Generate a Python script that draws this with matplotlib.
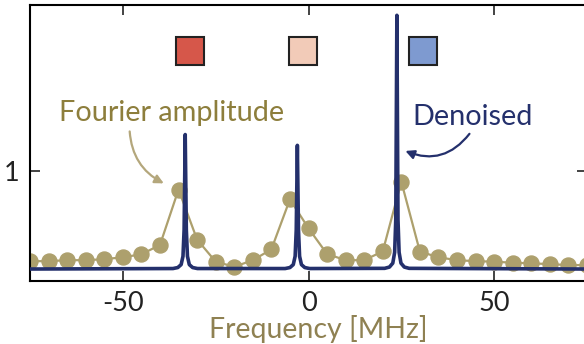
import matplotlib
matplotlib.use("Agg")
import matplotlib.pyplot as plt

plt.rcParams['font.family'] = ['Lato', 'DejaVu Sans']
plt.rcParams['axes.unicode_minus'] = False

# Fourier amplitude samples (5 MHz grid)
freq = [-75, -70, -65, -60, -55, -50, -45, -40, -35, -30, -25, -20, -15, -10, -5,
        0, 5, 10, 15, 20, 25, 30, 35, 40, 45, 50, 55, 60, 65, 70, 75]
amp = [0.08, 0.08, 0.09, 0.09, 0.10, 0.12, 0.15, 0.245, 0.81, 0.30, 0.075, 0.023,
       0.09, 0.20, 0.71, 0.415, 0.153, 0.09, 0.09, 0.18, 0.89, 0.177, 0.12, 0.09,
       0.08, 0.075, 0.064, 0.058, 0.05, 0.04, 0.04]

# Denoised spectrum (three narrow lines)
den_x = [-75, -36.5, -35.2, -34.3, -33.8, -33.5, -33.2, -32.9, -32.6, -32.1, -31.2, -29.9,
         -6.3, -5.0, -4.1, -3.6, -3.3, -3.0, -2.7, -2.4, -1.9, -1.0, 0.3,
         20.5, 21.8, 22.7, 23.2, 23.5, 23.8, 24.1, 24.4, 24.9, 25.8, 27.1, 75]
den_y = [0.0, 0.005, 0.015, 0.045, 0.13, 0.4, 1.37, 0.4, 0.13, 0.045, 0.015, 0.005,
         0.005, 0.015, 0.045, 0.13, 0.4, 1.26, 0.4, 0.13, 0.045, 0.015, 0.005,
         0.007, 0.02, 0.06, 0.17, 0.5, 2.585, 0.5, 0.17, 0.06, 0.02, 0.007, 0.0]

# colour swatches above the lines
sq_x = [-31.9, -1.6, 30.8]
sq_y = [2.22, 2.22, 2.22]
sq_colors = ['#d6574a', '#f2cbb8', '#7e9ad0']

gold = '#ada06d'
gold_text = '#8d7e3c'
navy = '#24306c'

fig = plt.figure(figsize=(5.84, 3.44), dpi=100)
ax = fig.add_axes([30 / 584, 63 / 344, 557 / 584, 276 / 344])

ax.plot(freq, amp, '-o', color=gold, lw=1.6, ms=10.8, zorder=2)
ax.plot(den_x, den_y, '-', color=navy, lw=2.6, solid_joinstyle='round', zorder=3)

for x, y, c in zip(sq_x, sq_y, sq_colors):
    ax.plot(x, y, 's', ms=20.5, mfc=c, mec='#222222', mew=1.5)

ax.text(-67.1, 1.51, 'Fourier amplitude', color=gold_text, fontsize=20.8, va='baseline')
ax.text(28.0, 1.47, 'Denoised', color=navy, fontsize=20.8, va='baseline')

ax.annotate('', xy=(-38.3, 0.86), xytext=(-48.2, 1.43),
            arrowprops=dict(arrowstyle='-|>', color='#b4a77c', lw=1.6,
                            mutation_scale=13, connectionstyle='arc3,rad=0.3'))
ax.annotate('', xy=(25.4, 1.214), xytext=(43.8, 1.40),
            arrowprops=dict(arrowstyle='-|>', color=navy, lw=1.6,
                            mutation_scale=13, connectionstyle='arc3,rad=-0.4'))

ax.set_xlim(-75, 75)
ax.set_ylim(-0.122, 2.69)
ax.set_xticks([-50, 0, 50])
ax.set_yticks([1])
ax.tick_params(direction='in', top=True, right=True, length=7, width=1.2,
               labelsize=19.5, pad=7.5, colors='#222222')
for s in ax.spines.values():
    s.set_linewidth(1.5)

fig.text(318 / 584, 0.018, 'Frequency [MHz]', color='#8f8152', fontsize=20.5,
         ha='center', va='baseline')

fig.savefig('out.png', dpi=100)
